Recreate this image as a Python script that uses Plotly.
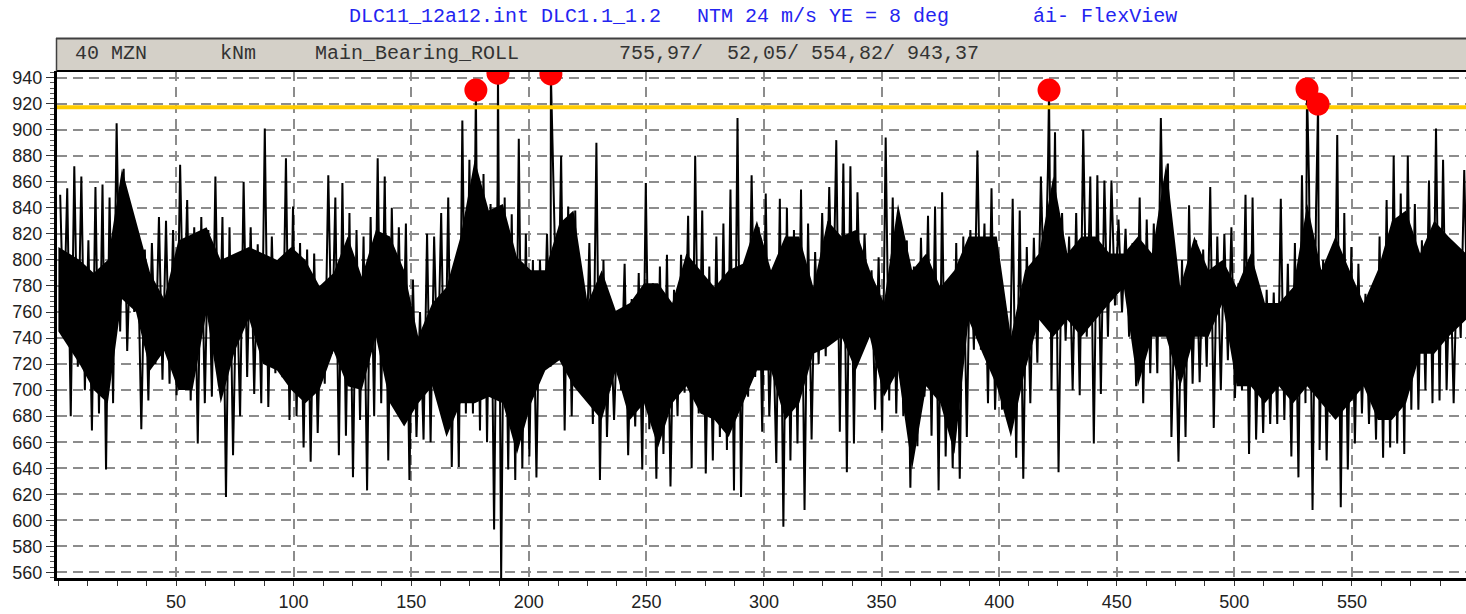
import plotly.graph_objects as go

# ---- data (3-s bins: upper / lower excursion) ----
bin_width = 3.0
bin_hi = [
    850, 855, 872, 864, 815, 856, 858, 848, 905, 870,
    820, 810, 808, 813, 833, 830, 823, 873, 846, 825,
    833, 823, 864, 833, 825, 790, 860, 825, 812, 901,
    818, 795, 878, 841, 813, 808, 805, 775, 865, 848,
    859, 836, 823, 818, 833, 878, 864, 840, 825, 828,
    785, 760, 820, 818, 836, 848, 800, 907, 877, 875,
    866, 843, 860, 848, 835, 893, 820, 800, 800, 820,
    828, 880, 841, 838, 770, 813, 890, 800, 760, 755,
    797, 770, 790, 859, 782, 795, 804, 777, 804, 834,
    880, 838, 795, 818, 828, 854, 909, 795, 865, 825,
    851, 760, 847, 840, 823, 854, 828, 806, 836, 856,
    892, 874, 872, 852, 820, 792, 802, 894, 848, 808,
    815, 795, 817, 834, 841, 852, 770, 813, 818, 823,
    884, 828, 855, 770, 760, 847, 838, 810, 817, 864,
    870, 898, 836, 818, 836, 900, 864, 865, 861, 861,
    831, 824, 813, 848, 831, 828, 909, 874, 777, 800,
    842, 815, 808, 856, 818, 820, 825, 782, 850, 848,
    767, 777, 775, 847, 797, 813, 865, 860, 840, 800,
    797, 896, 836, 810, 797, 774, 765, 818, 846, 880,
    851, 880, 843, 815, 861, 901, 877, 803, 803, 869,
]
bin_lo = [
    745, 680, 718, 700, 669, 682, 639, 690, 745, 730,
    760, 670, 692, 720, 708, 705, 696, 741, 692, 659,
    690, 695, 703, 618, 650, 680, 710, 697, 690, 687,
    713, 710, 677, 680, 656, 645, 667, 705, 728, 650,
    665, 633, 677, 623, 680, 690, 646, 705, 690, 631,
    664, 662, 660, 710, 677, 641, 641, 682, 682, 669,
    660, 593, 555, 639, 631, 640, 649, 633, 715, 718,
    723, 669, 680, 700, 705, 674, 631, 664, 677, 700,
    650, 672, 639, 670, 632, 651, 626, 680, 698, 640,
    682, 636, 646, 664, 654, 623, 618, 695, 710, 668,
    680, 644, 595, 646, 659, 608, 662, 720, 726, 744,
    668, 637, 659, 733, 750, 685, 669, 692, 682, 680,
    625, 657, 695, 665, 623, 649, 640, 632, 664, 731,
    731, 690, 685, 685, 672, 648, 632, 690, 721, 760,
    700, 637, 738, 700, 696, 741, 659, 697, 741, 765,
    760, 741, 703, 690, 713, 713, 755, 664, 645, 664,
    705, 706, 718, 671, 700, 723, 694, 700, 651, 662,
    667, 674, 674, 677, 649, 633, 690, 608, 654, 646,
    680, 610, 639, 659, 682, 674, 662, 648, 656, 659,
    651, 685, 685, 700, 690, 692, 700, 690, 740, 745,
]
# dense core of the signal (6-s bins: top / bottom of the solid black band)
core_width = 6.0
core_hi = [
    810, 800, 790, 800, 870, 830, 790, 770, 815, 820,
    825, 800, 805, 810, 805, 800, 810, 800, 780, 790,
    818, 787, 823, 818, 792, 741, 767, 779, 818, 877,
    838, 843, 802, 792, 792, 828, 838, 767, 792, 761,
    767, 782, 782, 767, 805, 792, 779, 792, 797, 830,
    792, 818, 818, 779, 830, 818, 823, 792, 767, 843,
    792, 805, 779, 792, 818, 818, 818, 741, 792, 805,
    864, 805, 818, 818, 805, 805, 818, 805, 874, 779,
    818, 792, 800, 779, 805, 767, 767, 779, 843, 792,
    818, 792, 767, 792, 830, 838, 805, 830, 818, 805,
]
core_lo = [
    745, 720, 700, 690, 770, 760, 715, 730, 700, 700,
    760, 690, 730, 755, 720, 715, 700, 690, 700, 730,
    703, 700, 741, 690, 672, 690, 703, 664, 690, 690,
    695, 690, 651, 690, 715, 723, 703, 690, 677, 715,
    677, 690, 656, 690, 703, 682, 677, 664, 690, 715,
    715, 677, 690, 728, 733, 741, 715, 741, 695, 715,
    639, 703, 690, 651, 754, 728, 703, 664, 715, 754,
    741, 754, 741, 754, 767, 779, 703, 741, 741, 703,
    741, 741, 767, 703, 703, 690, 703, 690, 703, 690,
    677, 690, 703, 677, 677, 690, 728, 728, 741, 754,
]
# peaks exceeding the threshold (red markers)
peak_t = [177.5, 186.9, 209.4, 421.2, 530.9, 535.6]
peak_v = [930.5, 943.4, 942.8, 930.5, 931.2, 919.7]
threshold = 917.2

title_text = "DLC11_12a12.int DLC1.1_1.2   NTM 24 m/s YE = 8 deg       ái- FlexView"
header_items = ["40 MZN", "kNm", "Main_Bearing_ROLL", "755,97/  52,05/ 554,82/ 943,37"]
header_px = [73, 218, 313, 617]

y_ticks = list(range(560, 941, 20))
x_ticks = list(range(50, 551, 50))

# ---- build the signal trace ----
pts = []
for k, (h, l) in enumerate(zip(bin_hi, bin_lo)):
    pts.append((k * bin_width + 0.75, h))
    pts.append((k * bin_width + 2.25, l))
for t, v in zip(peak_t, peak_v):
    pts.append((t, v))
pts.sort(key=lambda p: p[0])
sig_t = [p[0] for p in pts]
sig_v = [p[1] for p in pts]

core_t = [k * core_width + core_width / 2 for k in range(len(core_hi))]
core_t[0] = 0.0
core_t[-1] = 598.5
band_x = core_t + core_t[::-1]
band_y = core_hi + core_lo[::-1]

W, H = 1466, 614
L, R, T, B = 57, 0, 71, 36
plot_w = W - L - R
plot_h = H - T - B

fig = go.Figure()
fig.add_trace(go.Scatter(x=band_x, y=band_y, mode="lines", fill="toself",
                         fillcolor="black", line=dict(width=0),
                         hoverinfo="skip"))
fig.add_trace(go.Scatter(x=sig_t, y=sig_v, mode="lines",
                         line=dict(color="black", width=2), hoverinfo="skip"))
fig.add_trace(go.Scatter(x=[-1, 600], y=[threshold, threshold], mode="lines",
                         line=dict(color="#FFCC00", width=4), hoverinfo="skip"))
fig.add_trace(go.Scatter(x=peak_t, y=peak_v, mode="markers",
                         marker=dict(color="#FF0000", size=23, line=dict(width=0)),
                         hoverinfo="skip"))

def ppx(px):
    return (px - L) / plot_w

def ppy(py):
    return (H - B - py) / plot_h

shapes = [
    dict(type="rect", xref="paper", yref="paper", x0=ppx(56), x1=1.0, y0=1.0, y1=ppy(38),
         fillcolor="#D4D0C8", line=dict(width=0), layer="above"),
    dict(type="line", xref="paper", yref="paper", x0=ppx(56), x1=1.0, y0=ppy(38.5), y1=ppy(38.5),
         line=dict(color="#404040", width=2), layer="above"),
    dict(type="line", xref="paper", yref="paper", x0=ppx(56), x1=1.0, y0=1.0, y1=1.0,
         line=dict(color="black", width=2), layer="above"),
    dict(type="line", xref="paper", yref="paper", x0=ppx(56.5), x1=ppx(56.5), y0=1.0, y1=ppy(38),
         line=dict(color="#404040", width=1.5), layer="above"),
]

annotations = [
    dict(text=title_text.replace(" ", "\u00a0"), xref="paper", yref="paper",
         x=ppx(347), y=ppy(17), xanchor="left", yanchor="middle", showarrow=False,
         font=dict(family="Liberation Mono, Courier New, monospace", size=20, color="#2424F0")),
]
for txt, px in zip(header_items, header_px):
    annotations.append(dict(text=txt.replace(" ", "\u00a0"), xref="paper", yref="paper",
                            x=ppx(px), y=ppy(53), xanchor="left", yanchor="middle",
                            showarrow=False,
                            font=dict(family="Liberation Mono, Courier New, monospace",
                                      size=20, color="#333333")))

fig.update_layout(
    width=W, height=H,
    margin=dict(l=L, r=R, t=T, b=B, pad=0),
    paper_bgcolor="white", plot_bgcolor="white",
    showlegend=False,
    shapes=shapes,
    annotations=annotations,
    font=dict(family="Liberation Sans, Arial, sans-serif", size=18, color="#222222"),
)
fig.update_xaxes(
    range=[-0.6, 598.5], tickmode="array", tickvals=x_ticks, ticktext=[str(v) for v in x_ticks],
    showgrid=True, gridcolor="#8C8C8C", gridwidth=1.5, griddash="10px,6px",
    zeroline=False, showline=True, linecolor="black", linewidth=3,
    ticks="outside", ticklen=5, tickcolor="#333333", tickwidth=1,
    minor=dict(dtick=12.5, tick0=0, ticks="outside", ticklen=5, tickcolor="#333333", showgrid=False),
    tickfont=dict(size=18, color="#222222"),
)
fig.update_yaxes(
    range=[555.7, 945.1], tickmode="array", tickvals=y_ticks, ticktext=[str(v) for v in y_ticks],
    showgrid=True, gridcolor="#8C8C8C", gridwidth=1.5, griddash="10px,6px",
    zeroline=False, showline=True, linecolor="black", linewidth=3,
    ticks="outside", ticklen=8, tickcolor="#333333", tickwidth=1,
    minor=dict(dtick=4, tick0=560, ticks="outside", ticklen=4, tickcolor="#555555", showgrid=False),
    tickfont=dict(size=18, color="#222222"),
)

fig.write_html("out.html", config={"displayModeBar": False})

# remove the browser's default page margin so the figure starts at the window corner
with open("out.html", "r", encoding="utf-8") as f:
    html = f.read()
html = html.replace("<head>", "<head><style>html,body{margin:0;padding:0;overflow:hidden}</style>", 1)
with open("out.html", "w", encoding="utf-8") as f:
    f.write(html)
